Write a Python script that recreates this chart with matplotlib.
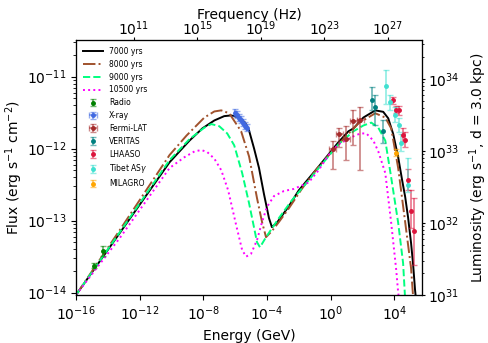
import numpy as np
import matplotlib
matplotlib.use('Agg')
import matplotlib.pyplot as plt
from matplotlib.colors import to_rgba

# model curves as (log10 E [GeV], log10 flux)
logE_7000 = [-16, -13.25, -10.125, -8.875, -8.06, -7.31, -6.69, -6.25, -5.75, -5.375, -5.125, -4.81,
             -4.5, -4.19, -3.875, -3.69, -3.375, -2.625, -2.0, -0.75, 0.5, 1.125, 1.44, 2.06, 2.81,
             3.31, 3.625, 3.94, 4.25, 4.5, 4.69, 4.875, 5.06, 5.19, 5.31, 5.375]
logF_7000 = [-14.03, -13.17, -12.19, -11.89, -11.72, -11.61, -11.55, -11.54, -11.57, -11.64, -11.75, -12.0,
             -12.27, -12.63, -12.965, -13.09, -13.03, -12.80, -12.58, -12.25, -11.91, -11.76, -11.72, -11.57, -11.47,
             -11.49, -11.58, -11.80, -12.12, -12.44, -12.67, -12.96, -13.31, -13.61, -13.96, -14.1]

logE_8000 = [-16, -13.25, -10.125, -9.06, -7.94, -7.31, -6.875, -6.375, -5.625, -5.125, -4.625, -4.31,
             -4.06, -3.69, -3.25, -2.625, -1.81, -0.75, 0.625, 1.75, 2.81, 3.44, 3.81, 4.25, 4.69,
             5.06, 5.19]
logF_8000 = [-14.03, -13.13, -12.09, -11.82, -11.57, -11.485, -11.47, -11.51, -11.76, -12.11, -12.69, -13.02,
             -13.23, -13.145, -13.02, -12.83, -12.56, -12.25, -11.91, -11.65, -11.51, -11.57, -11.72, -12.27, -13.02,
             -13.66, -14.06]

logE_9000 = [-16, -13.25, -10.125, -8.875, -7.94, -7.5, -7.0, -6.5, -6.06, -5.56, -5.125, -4.81,
             -4.625, -4.44, -4.06, -3.25, -2.44, -1.375, -0.44, 0.5, 1.44, 2.06, 2.56, 3.0,
             3.44, 3.81, 4.25, 4.56, 4.69]
logF_9000 = [-14.03, -13.16, -12.16, -11.87, -11.71, -11.66, -11.69, -11.79, -11.955, -12.34, -12.76, -13.10,
             -13.30, -13.37, -13.23, -12.965, -12.72, -12.44, -12.19, -11.94, -11.76, -11.68, -11.64, -11.71,
             -11.89, -12.40, -13.03, -13.59, -14.1]

logE_10500 = [-16, -13.25, -10.125, -9.19, -8.56, -8.125, -7.75, -7.31, -6.875, -6.44, -5.94, -5.56,
              -5.31, -5.0, -4.625, -4.31, -4.0, -3.56, -2.94, -2.31, -1.375, -0.75, -0.125, 0.5,
              1.44, 1.875, 2.25, 2.69, 3.0, 3.44, 3.81, 4.125, 4.25, 4.31]
logF_10500 = [-14.03, -13.24, -12.27, -12.12, -12.04, -12.02, -12.05, -12.14, -12.30, -12.58, -13.06, -13.41,
              -13.50, -13.46, -13.27, -13.02, -12.81, -12.66, -12.59, -12.56, -12.47, -12.30, -12.09, -11.94,
              -11.83, -11.79, -11.79, -11.89, -12.04, -12.34, -13.03, -13.68, -14.0, -14.1]

# data points: log10 E, log10 F, error (dex) down / up
radio_E = [-14.875, -14.31]
radio_F = [-13.625, -13.42]
radio_lo = [0.03, 0.07]
radio_hi = [0.03, 0.07]

xray_E = [-6.0, -5.875, -5.75, -5.625, -5.5, -5.375, -5.25]
xray_F = [-11.5, -11.53, -11.57, -11.60, -11.64, -11.68, -11.71]
xray_err = [0.05, 0.05, 0.05, 0.05, 0.05, 0.05, 0.05]

fermi_E = [0.125, 0.56, 1.0, 1.44, 1.875]
fermi_F = [-12.0, -11.8, -11.87, -11.62, -11.6]
fermi_lo = [0.28, 0.18, 0.29, 0.33, 0.70]
fermi_hi = [0.10, 0.08, 0.19, 0.15, 0.17]
fermi_xerr = [0.2, 0.2, 0.2, 0.2, 0.2]

veritas_E = [2.625, 2.81, 3.31]
veritas_F = [-11.32, -11.43, -11.75]
veritas_lo = [0.15, 0.24, 0.17]
veritas_hi = [0.17, 0.18, 0.14]

lhaaso_E = [3.94, 4.125, 4.31, 4.56, 4.69, 4.875, 5.06, 5.25]
lhaaso_F = [-11.33, -11.46, -11.47, -11.81, -11.875, -12.43, -12.86, -13.14]
lhaaso_lo = [0.05, 0.05, 0.06, 0.1, 0.1, 0.15, 0.24, 0.48]
lhaaso_hi = [0.05, 0.05, 0.06, 0.1, 0.1, 0.15, 0.28, 0.46]

tibet_E = [3.5, 3.75, 4.06, 4.31, 4.44, 4.875]
tibet_F = [-11.125, -11.36, -11.53, -11.67, -11.92, -12.5]
tibet_lo = [0.26, 0.1, 0.1, 0.1, 0.12, 0.11]
tibet_hi = [0.22, 0.1, 0.1, 0.1, 0.12, 0.37]

milagro_E = [4.125]
milagro_F = [-12.06]
milagro_err = [0.05]

d_kpc = 3.0
lum_fac = 4 * np.pi * (d_kpc * 3.086e21) ** 2
hz_per_gev = 2.418e23

fig = plt.figure(figsize=(4.88, 3.43), dpi=100)
ax = fig.add_axes([0.156, 0.14, 0.709, 0.743])

ax.plot(10**np.array(logE_7000), 10**np.array(logF_7000), color='black', lw=1.4, label='7000 yrs')
ax.plot(10**np.array(logE_8000), 10**np.array(logF_8000), color='sienna', lw=1.4, ls='-.', label='8000 yrs')
ax.plot(10**np.array(logE_9000), 10**np.array(logF_9000), color='springgreen', lw=1.4, ls='--', label='9000 yrs')
ax.plot(10**np.array(logE_10500), 10**np.array(logF_10500), color='magenta', lw=1.4, ls=':', label='10500 yrs')


def pts(E, F, lo, hi, color, label, xerr=None):
    E = np.array(E)
    F = np.array(F)
    y = 10**F
    yerr = [y - 10**(F - np.array(lo)), 10**(F + np.array(hi)) - y]
    xe = None
    if xerr is not None:
        xe = [10**E - 10**(E - np.array(xerr)), 10**(E + np.array(xerr)) - 10**E]
    ax.errorbar(10**E, y, yerr=yerr, xerr=xe, fmt='o', ms=2.5, color=color,
                ecolor=to_rgba(color, 0.55), elinewidth=1.3, capsize=2.5, label=label)


pts(radio_E, radio_F, radio_lo, radio_hi, 'green', 'Radio')
pts(xray_E, xray_F, xray_err, xray_err, 'royalblue', 'X-ray', xerr=[0.06] * len(xray_E))
pts(fermi_E, fermi_F, fermi_lo, fermi_hi, 'brown', 'Fermi-LAT', xerr=fermi_xerr)
pts(veritas_E, veritas_F, veritas_lo, veritas_hi, 'teal', 'VERITAS')
pts(lhaaso_E, lhaaso_F, lhaaso_lo, lhaaso_hi, 'crimson', 'LHAASO')
pts(tibet_E, tibet_F, tibet_lo, tibet_hi, 'turquoise', r'Tibet AS$\gamma$')
pts(milagro_E, milagro_F, milagro_err, milagro_err, 'orange', 'MILAGRO')

ax.set_xscale('log')
ax.set_yscale('log')
xlim = (1e-16, 5.7e5)
ylim = (0.999e31 / lum_fac, 3.2e-11)
ax.set_xlim(xlim)
ax.set_ylim(ylim)
ax.set_xticks([1e-16, 1e-12, 1e-8, 1e-4, 1e0, 1e4])
ax.set_xlabel('Energy (GeV)', fontsize=10)
ax.set_ylabel('Flux (erg s$^{-1}$ cm$^{-2}$)', fontsize=10, labelpad=1)
ax.tick_params(labelsize=10)
ax.legend(loc='upper left', fontsize=5.5, frameon=False, handlelength=2.6)

ax2 = ax.twinx()
ax2.set_yscale('log')
ax2.set_ylim(ylim[0] * lum_fac, ylim[1] * lum_fac)
ax2.set_ylabel('Luminosity (erg s$^{-1}$, d = 3.0 kpc)', fontsize=10, labelpad=6)
ax2.tick_params(labelsize=10, length=2.5, pad=1.5)
ax2.tick_params(which='minor', length=1.5)

ax3 = ax.twiny()
ax3.set_xscale('log')
ax3.set_xlim(xlim[0] * hz_per_gev, xlim[1] * hz_per_gev)
ax3.set_xticks([1e11, 1e15, 1e19, 1e23, 1e27])
ax3.set_xlabel('Frequency (Hz)', fontsize=10, labelpad=0)
ax3.tick_params(labelsize=10, length=2.5, pad=-1)

fig.savefig('out.png', dpi=100)
